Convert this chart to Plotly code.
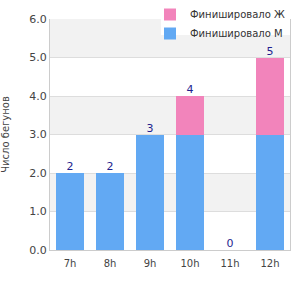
import plotly.graph_objects as go

categories = ["7h", "8h", "9h", "10h", "11h", "12h"]
finished_m = [2, 2, 3, 3, 0, 3]
finished_f = [0, 0, 0, 1, 0, 2]
totals = [m + f for m, f in zip(finished_m, finished_f)]
y_ticks = [0, 1, 2, 3, 4, 5, 6]
y_tick_labels = ["0.0", "1.0", "2.0", "3.0", "4.0", "5.0", "6.0"]

font = "DejaVu Sans"
fig = go.Figure()
fig.add_trace(go.Bar(x=categories, y=finished_m, name="Финишировало М",
                     marker=dict(color="#62A9F3", line=dict(width=0)), width=0.72))
fig.add_trace(go.Bar(x=categories, y=finished_f, name="Финишировало Ж",
                     marker=dict(color="#F284BB", line=dict(width=0)), width=0.72))
fig.add_trace(go.Scatter(x=categories, y=totals, mode="text", text=[str(t) for t in totals],
                         textposition="top center", showlegend=False,
                         textfont=dict(color="#1f1f8f", size=11, family=font), hoverinfo="skip"))

shapes = []
for lo in [1, 3, 5]:
    shapes.append(dict(type="rect", xref="paper", yref="y", x0=0, x1=1, y0=lo, y1=lo + 1,
                       fillcolor="#F2F2F2", line=dict(width=0), layer="below"))
# white legend background box
shapes.append(dict(type="rect", xref="paper", yref="paper", x0=0.4625, x1=1.05, y0=0.9307, y1=1.09,
                   fillcolor="white", line=dict(width=0), layer="below"))

fig.update_layout(
    width=300, height=300, barmode="stack",
    margin=dict(l=50, r=10, t=19, b=50, autoexpand=False),
    paper_bgcolor="white", plot_bgcolor="white",
    font=dict(family=font, size=11, color="#444"),
    shapes=shapes,
    showlegend=True,
    legend=dict(xref="container", yref="container", x=0.5, y=1.03, xanchor="left", yanchor="top",
                bgcolor="rgba(0,0,0,0)", traceorder="reversed", font=dict(size=10, color="#333"),
                itemwidth=30, tracegroupgap=0),
    xaxis=dict(showline=True, linecolor="#ccc", linewidth=1, ticks="", showgrid=False,
               tickangle=0, ticklabelstandoff=4, tickfont=dict(size=10, color="#444")),
    yaxis=dict(range=[0, 6], tickvals=y_ticks, ticktext=y_tick_labels, showgrid=True,
               gridcolor="#ddd", showline=True, mirror=True, linecolor="#ccc", zeroline=False,
               tickfont=dict(size=11, color="#444"),
               title=dict(text="Число бегунов", font=dict(size=10, color="#444"), standoff=17)),
)
fig.write_html("out.html")
